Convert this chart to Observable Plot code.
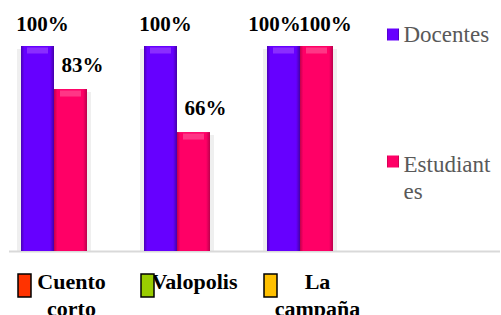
<!DOCTYPE html>
<html>
<head>
<meta charset="utf-8">
<script src="https://cdn.jsdelivr.net/npm/d3@7"></script>
<script src="https://cdn.jsdelivr.net/npm/@observablehq/plot@0.6"></script>
<style>
  html, body { margin: 0; padding: 0; background: #fff; }
  #chart { width: 501px; height: 315px; overflow: hidden; }
  #chart svg text, #chart svg tspan { font-family: "Liberation Serif", "Times New Roman", Times, Tinos, "DejaVu Serif", serif !important; }
</style>
</head>
<body>
<div id="chart"></div>
<script>
const categories = ["Cuento corto", "Valopolis", "La campaña"];
const categoryLines = ["Cuento\ncorto", "Valopolis", "La\ncampaña"];
const docentes = [100, 100, 100];
const estudiantes = [83, 66, 100];
const seriesNames = ["Docentes", "Estudiant\nes"];
const categoryKeyColors = ["#ff3300", "#99cc00", "#ffc000"];
const yDomain = [19, 100];

const rows = categories.map((c, i) => ({
  cat: c, doc: docentes[i], est: estudiantes[i],
  label: categoryLines[i], key: categoryKeyColors[i]
}));
const yMin = yDomain[0];
const serif = "'Liberation Serif', 'Times New Roman', serif";
const pct = v => `${v}%`;
const rectSymbol = (w, h) => ({ draw(ctx) { ctx.rect(-w / 2, -h / 2, w, h); } });

const chart = Plot.plot({
  width: 501, height: 315,
  marginLeft: 9, marginRight: 1, marginTop: 0, marginBottom: 64,
  style: { background: "white", overflow: "visible" },
  x: { domain: categories, range: [9, 344], paddingInner: 0.466, paddingOuter: 0.089, axis: null },
  y: { domain: yDomain, range: [251, 46], axis: null },
  color: { type: "identity" },
  marks: [
    Plot.barY(rows, { x: "cat", y1: () => yMin, y2: "doc", fill: "#efefef", insetLeft: -4, insetRight: 33, insetTop: 3 }),
    Plot.barY(rows, { x: "cat", y1: () => yMin, y2: "est", fill: "#efefef", insetLeft: 33, insetRight: -4, insetTop: 3 }),
    Plot.ruleY([yMin], { stroke: "#d9d9d9", strokeWidth: 2 }),
    Plot.barY(rows, { x: "cat", y1: () => yMin, y2: "doc", fill: "url(#gDoc)", insetRight: 33 }),
    Plot.barY(rows, { x: "cat", y1: () => yMin, y2: "est", fill: "url(#gEst)", insetLeft: 33 }),
    Plot.tickY(rows, { x: "cat", y: "doc", dy: 4, stroke: "#9a40ff", strokeOpacity: 0.7, strokeWidth: 6, insetLeft: 6, insetRight: 39 }),
    Plot.tickY(rows, { x: "cat", y: "est", dy: 4, stroke: "#ff4d94", strokeOpacity: 0.7, strokeWidth: 6, insetLeft: 39, insetRight: 6 }),
    Plot.text(rows.filter(d => d.doc !== d.est), { x: "cat", y: "doc", text: d => pct(d.doc), dx: -12, dy: -22, fontSize: 21, fontWeight: "bold", fill: "#000", fontFamily: serif }),
    Plot.text(rows.filter(d => d.doc === d.est), { x: "cat", y: "doc", text: d => pct(d.doc), dx: -26, dy: -22, fontSize: 21, fontWeight: "bold", fill: "#000", fontFamily: serif }),
    Plot.text(rows.filter(d => d.doc !== d.est), { x: "cat", y: "est", text: d => pct(d.est), dx: 28, dy: -24, fontSize: 21, fontWeight: "bold", fill: "#000", fontFamily: serif }),
    Plot.text(rows.filter(d => d.doc === d.est), { x: "cat", y: "est", text: d => pct(d.est), dx: 25, dy: -22, fontSize: 21, fontWeight: "bold", fill: "#000", fontFamily: serif }),
    Plot.text(rows, { x: "cat", text: "label", frameAnchor: "bottom", lineAnchor: "top", dy: 19, dx: 17, fontSize: 22, fontWeight: "bold", fill: "#000", lineHeight: 1.2, fontFamily: serif }),
    Plot.dot(rows, { x: "cat", frameAnchor: "bottom", dy: 34, dx: -30, symbol: rectSymbol(13, 23), fill: "key", stroke: "#000", strokeWidth: 1.5 }),
    Plot.dot([seriesNames[0]], { frameAnchor: "top-left", dx: 383.5, dy: 34, symbol: rectSymbol(12, 12), fill: "url(#gDoc)" }),
    Plot.dot([seriesNames[1]], { frameAnchor: "top-left", dx: 383.5, dy: 161, symbol: rectSymbol(12, 12), fill: "url(#gEst)" }),
    Plot.text([seriesNames[0]], { frameAnchor: "top-left", dx: 394, dy: 25, text: d => d, textAnchor: "start", lineAnchor: "top", fontSize: 23, fill: "#595959", fontFamily: serif }),
    Plot.text([seriesNames[1]], { frameAnchor: "top-left", dx: 394, dy: 152, text: d => d, textAnchor: "start", lineAnchor: "top", fontSize: 23, fill: "#595959", lineHeight: 1.17, fontFamily: serif })
  ]
});

const defs = d3.select(chart).insert("defs", ":first-child");
function grad(id, stops) {
  const g = defs.append("linearGradient").attr("id", id).attr("x1", "0").attr("x2", "1").attr("y1", "0").attr("y2", "0");
  stops.forEach(([o, c]) => g.append("stop").attr("offset", o).attr("stop-color", c));
}
grad("gDoc", [[0, "#4a00b5"], [0.1, "#6600ff"], [0.88, "#6600ff"], [1, "#4400a8"]]);
grad("gEst", [[0, "#c0004c"], [0.1, "#ff0066"], [0.88, "#ff0066"], [1, "#bb004c"]]);

document.getElementById("chart").appendChild(chart);
</script>
</body>
</html>
